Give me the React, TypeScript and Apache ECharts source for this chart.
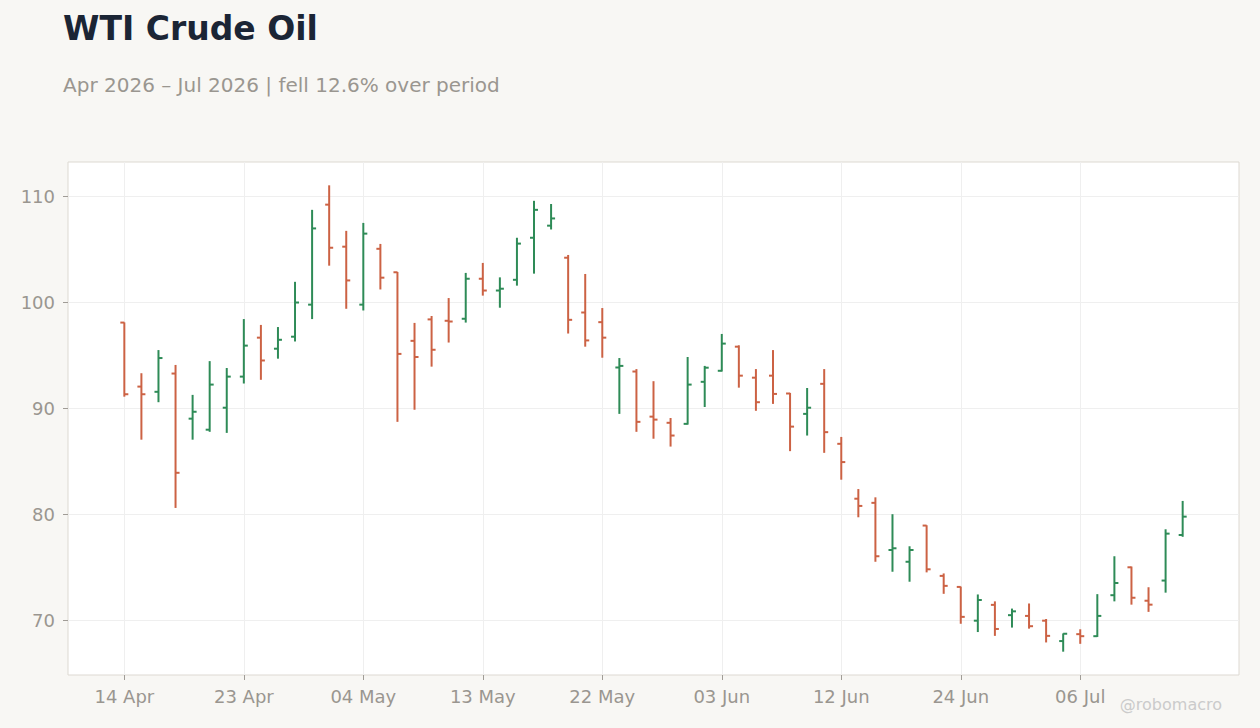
import React, { useEffect, useRef } from "react";
import * as echarts from "echarts";

// Trading days (categories)
const dates = [
  "14 Apr", "15 Apr", "16 Apr", "17 Apr", "20 Apr", "21 Apr", "22 Apr", "23 Apr", "24 Apr", "27 Apr",
  "28 Apr", "29 Apr", "30 Apr", "01 May", "04 May", "05 May", "06 May", "07 May", "08 May", "11 May",
  "12 May", "13 May", "14 May", "15 May", "18 May", "19 May", "20 May", "21 May", "22 May", "26 May",
  "27 May", "28 May", "29 May", "01 Jun", "02 Jun", "03 Jun", "04 Jun", "05 Jun", "08 Jun", "09 Jun",
  "10 Jun", "11 Jun", "12 Jun", "15 Jun", "16 Jun", "17 Jun", "18 Jun", "22 Jun", "23 Jun", "24 Jun",
  "25 Jun", "26 Jun", "29 Jun", "30 Jun", "01 Jul", "02 Jul", "06 Jul", "07 Jul", "08 Jul", "09 Jul",
  "10 Jul", "13 Jul", "14 Jul",
];

const opens = [
  98.08, 92.05, 91.56, 93.28, 89.03, 87.99, 90.06, 92.99, 96.66, 95.62,
  96.75, 99.77, 109.19, 105.23, 99.77, 105.03, 102.82, 96.36, 98.38, 98.25,
  98.44, 102.21, 101.1, 102.11, 106.07, 107.21, 104.19, 99.03, 98.12, 93.85,
  93.47, 89.22, 88.64, 88.54, 92.5, 93.54, 95.81, 92.89, 93.08, 91.4,
  89.48, 92.31, 86.66, 81.49, 81.1, 76.66, 75.55, 78.96, 74.22, 73.18,
  70.0, 71.49, 70.52, 70.45, 70.0, 68.08, 68.73, 68.54, 72.4, 75.03,
  71.88, 73.78, 78.07,
];

const highs = [
  98.1, 93.31, 95.49, 94.09, 91.27, 94.45, 93.8, 98.41, 97.86, 97.66,
  101.92, 108.7, 111.01, 106.72, 107.47, 105.49, 102.85, 98.05, 98.7, 100.39,
  102.76, 103.7, 102.34, 106.07, 109.55, 109.25, 104.45, 102.66, 99.45, 94.74,
  93.7, 92.56, 89.09, 94.84, 94.0, 97.01, 95.94, 93.7, 95.49, 91.46,
  91.92, 93.7, 87.31, 82.4, 81.62, 80.03, 77.01, 78.99, 74.45, 73.21,
  72.47, 71.82, 71.14, 71.62, 70.16, 68.8, 69.19, 72.5, 76.07, 75.1,
  73.15, 78.61, 81.28,
];

const lows = [
  91.1, 87.05, 90.58, 80.62, 87.05, 87.79, 87.69, 92.34, 92.69, 94.68,
  96.3, 98.41, 103.44, 99.38, 99.22, 101.2, 88.73, 89.87, 93.93, 96.2,
  98.08, 100.62, 99.48, 101.56, 102.69, 106.85, 97.05, 95.81, 94.77, 89.48,
  87.79, 87.14, 86.4, 88.47, 90.13, 93.47, 91.95, 89.77, 90.42, 85.97,
  87.44, 85.81, 83.28, 79.74, 75.55, 74.61, 73.67, 74.55, 72.53, 69.71,
  68.93, 68.57, 69.35, 69.25, 67.95, 67.08, 67.82, 68.47, 71.82, 71.51,
  70.83, 72.64, 77.9,
];

const closes = [
  91.33, 91.33, 94.74, 83.93, 89.68, 92.24, 92.99, 95.91, 94.51, 96.46,
  99.97, 106.95, 105.13, 102.05, 106.46, 102.31, 95.13, 94.84, 95.52, 98.18,
  102.21, 101.1, 101.27, 105.52, 108.7, 107.89, 98.34, 96.4, 96.66, 94.0,
  88.73, 88.94, 87.44, 92.24, 93.83, 96.1, 93.08, 90.58, 91.36, 88.28,
  90.06, 87.76, 84.94, 80.81, 76.07, 76.82, 76.66, 74.84, 73.28, 70.36,
  71.95, 69.22, 70.88, 69.48, 68.57, 68.77, 68.54, 70.45, 73.55, 72.16,
  71.51, 78.2, 79.8,
];

const xLabelIndices = [0, 7, 14, 21, 28, 35, 42, 49, 56];
const yTickValues = [70, 80, 90, 100, 110];

const TITLE = "WTI Crude Oil";
const SUBTITLE = "Apr 2026 \u2013 Jul 2026 | fell 12.6% over period";
const WATERMARK = "@robomacro";

const UP = "#2e8b57";
const DOWN = "#cc6244";
const FONT = "DejaVu Sans";

export default function App() {
  const ref = useRef<HTMLDivElement>(null);

  useEffect(() => {
    if (!ref.current) return;
    const chart = echarts.init(ref.current, null, { renderer: "svg" });
    const lo = Math.min(...lows);
    const hi = Math.max(...highs);
    const yPad = (hi - lo) * 0.05;
    const n = dates.length;
    const xPad = 3.3;
    const data = dates.map((_, i) => [i, opens[i], closes[i], lows[i], highs[i]]);

    chart.setOption({
      animation: false,
      backgroundColor: "#f8f7f4",
      textStyle: { fontFamily: FONT },
      title: [
        {
          text: TITLE,
          left: 63,
          top: 12,
          padding: 0,
          textStyle: { fontFamily: FONT, fontSize: 33, fontWeight: "bold", color: "#1b2535" },
        },
        {
          text: SUBTITLE,
          left: 63,
          top: 75,
          padding: 0,
          textStyle: { fontFamily: FONT, fontSize: 20, fontWeight: "normal", color: "#9a9690" },
        },
        {
          text: WATERMARK,
          right: 38,
          top: 696,
          padding: 0,
          textStyle: { fontFamily: FONT, fontSize: 16, fontWeight: "normal", color: "#cbcbcb" },
        },
      ],
      grid: {
        left: 68,
        right: 21,
        top: 162,
        bottom: 53,
        show: true,
        backgroundColor: "#ffffff",
        borderColor: "#ddd9d2",
        borderWidth: 1,
      },
      xAxis: {
        type: "value",
        min: -xPad,
        max: n - 1 + xPad,
        axisLine: { show: false, onZero: false },
        axisTick: {
          show: true,
          length: 5,
          customValues: xLabelIndices,
          lineStyle: { color: "#a09c96" },
        },
        axisLabel: {
          customValues: xLabelIndices,
          margin: 12,
          fontSize: 18,
          color: "#9a9690",
          fontFamily: FONT,
          formatter: (v: number) => dates[Math.round(v)] ?? "",
        },
        splitLine: { show: true, lineStyle: { color: "#efefef", width: 1 } },
      },
      yAxis: {
        type: "value",
        min: lo - yPad,
        max: hi + yPad,
        axisLine: { show: false, onZero: false },
        axisTick: {
          show: true,
          length: 5,
          customValues: yTickValues,
          lineStyle: { color: "#a09c96" },
        },
        axisLabel: {
          customValues: yTickValues,
          margin: 13,
          fontSize: 18,
          color: "#9a9690",
          fontFamily: FONT,
        },
        splitLine: { show: true, lineStyle: { color: "#efefef", width: 1 } },
      },
      series: [
        {
          type: "custom",
          data,
          encode: { x: 0, y: [1, 2, 3, 4] },
          renderItem: (params: any, api: any) => {
            const x = api.value(0);
            const o = api.value(1);
            const c = api.value(2);
            const l = api.value(3);
            const h = api.value(4);
            const po = api.coord([x, o]);
            const pc = api.coord([x, c]);
            const pl = api.coord([x, l]);
            const ph = api.coord([x, h]);
            const color = c >= o ? UP : DOWN;
            const style = { stroke: color, lineWidth: 2 };
            return {
              type: "group",
              children: [
                { type: "line", shape: { x1: ph[0], y1: ph[1], x2: pl[0], y2: pl[1] }, style },
                { type: "line", shape: { x1: po[0] - 4, y1: po[1], x2: po[0], y2: po[1] }, style },
                { type: "line", shape: { x1: pc[0], y1: pc[1], x2: pc[0] + 4, y2: pc[1] }, style },
              ],
            };
          },
        },
      ],
    });

    return () => chart.dispose();
  }, []);

  return (
    <div
      ref={ref}
      style={{ position: "fixed", left: 0, top: 0, width: 1260, height: 728 }}
    />
  );
}
